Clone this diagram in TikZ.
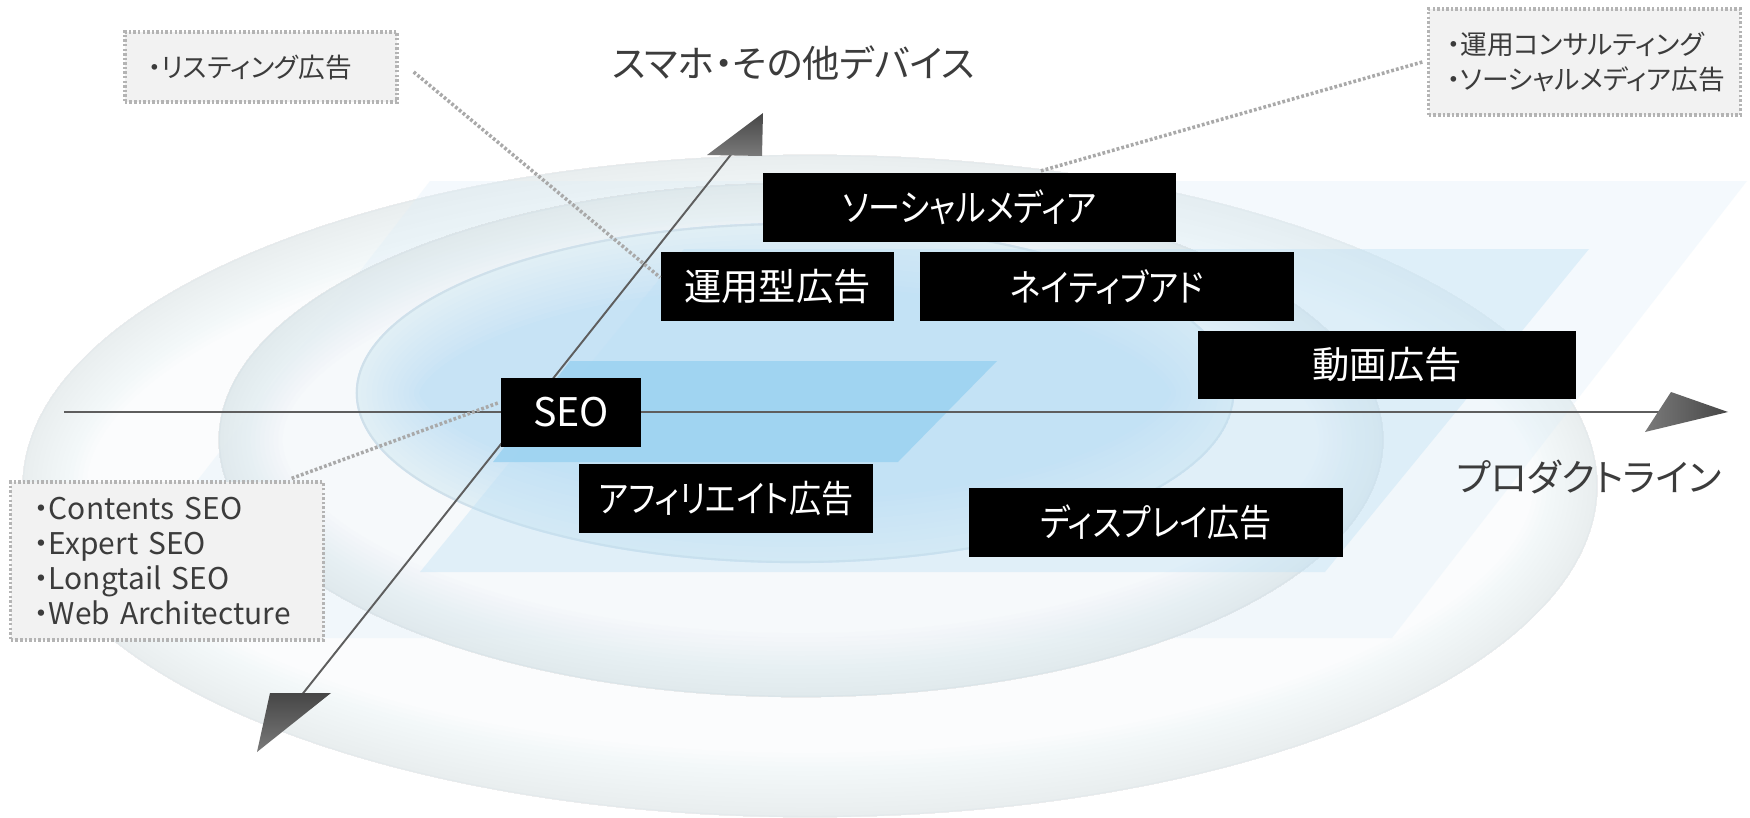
\documentclass[tikz,border=0pt]{standalone}
\usepackage{fontspec}
\setmainfont{Noto Sans CJK JP}[RawFeature=+palt]
\newfontfamily\narrowjp{Noto Sans CJK JP}[RawFeature=+palt,FakeStretch=0.86]
\definecolor{axisgray}{HTML}{5E5E5E}
\definecolor{headgray}{HTML}{464646}
\definecolor{headlight}{HTML}{7A7A7A}
\definecolor{labelgray}{HTML}{3C3C3C}
\definecolor{callfill}{HTML}{F2F2F2}
\definecolor{calldraw}{HTML}{B4B4B4}
\definecolor{dotgray}{HTML}{A9A9A9}
\definecolor{outerfill}{HTML}{FBFCFD}
\definecolor{outerrim}{HTML}{C9D7E1}
\definecolor{midfill}{HTML}{F7FAFB}
\definecolor{midrim}{HTML}{C3D2DD}
\definecolor{innerfill}{HTML}{C7E3F5}
\definecolor{innerrim}{HTML}{FFFFFF}
\definecolor{inneredge}{HTML}{BFD3E0}
\definecolor{planeA}{HTML}{DCEEF9}
\definecolor{planeB}{HTML}{BFE1F5}
\definecolor{planeC}{HTML}{9DD3F1}
\begin{document}
\begin{tikzpicture}[x=0.01cm,y=-0.01cm,
  blackbox/.style={fill=black,text=white,inner sep=0pt,minimum height=0.69cm,font=\fontsize{10.6pt}{12pt}\selectfont},
  narrowbox/.style={blackbox,font=\fontsize{10.6pt}{12pt}\narrowjp},
  callout/.style={fill=callfill,draw=calldraw,line width=0.9pt,dash pattern=on 0.7pt off 0.6pt,align=left,inner ysep=0pt,font=\fontsize{7.6pt}{9.95pt}\selectfont,text=labelgray},
  callline/.style={draw=dotgray,line width=1pt,dash pattern=on 0.8pt off 0.6pt},
  axisline/.style={draw=axisgray,line width=0.55pt},
  axislabel/.style={text=labelgray,font=\fontsize{10.6pt}{12pt}\selectfont,inner sep=0pt}]
\fill[white] (0,0) rectangle (1750,818);
\useasboundingbox (0,0) rectangle (1750,818);
% outer ring
\begin{scope}
\clip (810,486) ellipse [x radius=7.87cm, y radius=3.31cm];
\fill[outerfill] (810,486) ellipse [x radius=7.87cm, y radius=3.31cm];
\foreach \i in {1,...,14}
  \draw[outerrim,line width=\i*2.6pt,opacity=0.022] (810,486) ellipse [x radius=7.87cm, y radius=3.31cm];
\draw[outerrim,line width=0.8pt,opacity=0.15] (810,486) ellipse [x radius=7.87cm, y radius=3.31cm];
\end{scope}
\fill[planeA,opacity=0.3] (430,181) -- (1747,181) -- (1392,638) -- (75,638) -- cycle;
% middle ring
\begin{scope}
\clip (801,440) ellipse [x radius=5.82cm, y radius=2.57cm];
\fill[midfill,opacity=0.85] (801,440) ellipse [x radius=5.82cm, y radius=2.57cm];
\foreach \i in {1,...,14}
  \draw[midrim,line width=\i*2.6pt,opacity=0.027] (801,440) ellipse [x radius=5.82cm, y radius=2.57cm];
\draw[midrim,line width=0.8pt,opacity=0.2] (801,440) ellipse [x radius=5.82cm, y radius=2.57cm];
\end{scope}
% inner lens
\begin{scope}
\clip (795,393) ellipse [x radius=4.39cm, y radius=1.70cm];
\fill[innerfill] (795,393) ellipse [x radius=4.39cm, y radius=1.70cm];
\foreach \i in {1,...,12}
  \draw[innerrim,line width=\i*3pt,opacity=0.06] (795,393) ellipse [x radius=4.39cm, y radius=1.70cm];
\draw[inneredge,line width=1.2pt,opacity=0.5] (795,393) ellipse [x radius=4.39cm, y radius=1.70cm];
\end{scope}
\fill[planeB,opacity=0.4] (684,249) -- (1589,249) -- (1325,572) -- (420,572) -- cycle;
\fill[planeC,opacity=0.9] (570,361) -- (997,361) -- (898,462) -- (493,462) -- cycle;
% axes
\coordinate (hL) at (64,412);
\coordinate (hR) at (1700,412);
\coordinate (dTop) at (760,118);
\coordinate (dBot) at (262,745);
\draw[axisline] (hL) -- (hR);
\draw[axisline] (dBot) -- (dTop);
\shade[left color=headlight,right color=headgray] (1671,392) -- (1728,412) -- (1645,432) -- cycle;
\shade[top color=headgray,bottom color=headlight] (763,113) -- (707,155) -- (762,156) -- cycle;
\shade[top color=headgray,bottom color=headlight] (270,693) -- (331,693) -- (257,752) -- cycle;
\node[axislabel] (devlabel) at (794,63) {スマホ・その他デバイス};
\node[axislabel] (prodlabel) at (1589,477) {プロダクトライン};
% black boxes
\node[narrowbox,minimum width=4.13cm] (social) at (969.5,207.5) {ソーシャルメディア};
\node[blackbox,minimum width=2.33cm] (unyo) at (777.5,286.5) {運用型広告};
\node[narrowbox,minimum width=3.74cm] (native) at (1107,286.5) {ネイティブアド};
\node[blackbox,minimum width=3.78cm,minimum height=0.68cm] (douga) at (1387,365) {動画広告};
\node[blackbox,minimum width=1.40cm,font=\fontsize{11.2pt}{12pt}\selectfont] (seo) at (571,412.5) {SEO};
\node[narrowbox,minimum width=2.94cm] (affi) at (726,498.5) {アフィリエイト広告};
\node[narrowbox,minimum width=3.74cm] (disp) at (1156,522.5) {ディスプレイ広告};
% callouts
\node[callout,text width=2.26cm,inner xsep=0.23cm,minimum height=0.70cm] (listing) at (261,67) {・リスティング広告};
\node[callout,text width=2.66cm,inner xsep=0.23cm,minimum height=1.58cm,font=\fontsize{8.5pt}{9.95pt}\selectfont] (seocall) at (167,561) {・Contents SEO\\・Expert SEO\\・Longtail SEO\\・Web Architecture};
\node[callout,text width=2.75cm,inner xsep=0.18cm,minimum height=1.06cm] (tr) at (1584.5,62) {・運用コンサルティング\\・ソーシャルメディア広告};
% dotted connectors
\draw[callline] ([shift={(15,5)}]listing.east) -- ([shift={(0,-9)}]unyo.west);
\draw[callline] ([shift={(-33,-2)}]seocall.north east) -- ([shift={(-1,-10)}]seo.west);
\draw[callline] ([shift={(-5,0)}]tr.west) -- ([shift={(70,-1)}]social.north);
\end{tikzpicture}
\end{document}
